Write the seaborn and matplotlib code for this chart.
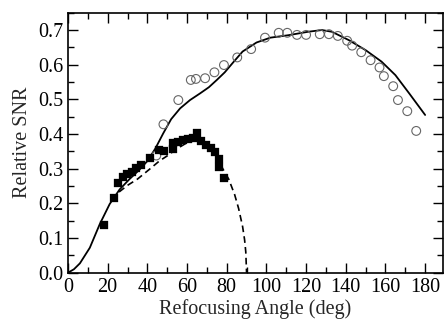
import numpy as np
import pandas as pd
import matplotlib
matplotlib.use("Agg")
import matplotlib.pyplot as plt
import seaborn as sns
from matplotlib.ticker import MultipleLocator

# Filled squares (measured)
sq_x = [18.3, 23.0, 25.4, 27.6, 29.6, 32.1, 34.5, 36.7, 41.2, 46.0, 48.5, 53.1, 53.1,
        55.6, 58.2, 60.7, 62.9, 64.9, 66.9, 69.6, 72.1, 74.1, 76.3, 76.3, 78.8]
sq_y = [0.137, 0.215, 0.260, 0.277, 0.285, 0.291, 0.303, 0.310, 0.330, 0.353, 0.350, 0.374, 0.358,
        0.378, 0.383, 0.386, 0.388, 0.402, 0.381, 0.368, 0.359, 0.347, 0.327, 0.306, 0.272]

# Open circles (measured)
ci_x = [44.5, 48.1, 55.6, 61.9, 64.5, 69.1, 73.8, 78.6, 85.3, 92.3, 99.3, 106.2, 110.5,
        115.4, 120.0, 126.9, 131.5, 136.0, 140.7, 143.2, 147.8, 152.5, 157.0, 159.2,
        163.9, 166.3, 171.0, 175.5]
ci_y = [0.338, 0.428, 0.498, 0.556, 0.559, 0.561, 0.578, 0.599, 0.621, 0.645, 0.678, 0.692, 0.692,
        0.686, 0.686, 0.688, 0.688, 0.683, 0.669, 0.655, 0.636, 0.613, 0.592, 0.567,
        0.538, 0.498, 0.466, 0.409]

# Solid curve
solid_x = [0, 3, 6, 11, 16, 21, 26, 31, 36, 40, 44, 48, 52, 56.5, 61.5, 66.5, 71, 75, 79,
           83, 88, 95, 102, 111, 121, 128, 133, 141.5, 150, 158, 165, 172, 180]
solid_y = [0.0, 0.01, 0.027, 0.072, 0.14, 0.198, 0.24, 0.27, 0.297, 0.322, 0.358, 0.402, 0.443,
           0.474, 0.498, 0.517, 0.535, 0.556, 0.578, 0.605, 0.638, 0.664, 0.678, 0.685,
           0.695, 0.700, 0.695, 0.671, 0.642, 0.609, 0.570, 0.517, 0.455]

# Dashed curve
dash_x = [22, 26, 30, 35, 41, 46, 50, 55, 60, 65, 70, 75, 78, 81, 84, 86, 88, 89, 89.6, 90]
dash_y = [0.21, 0.234, 0.252, 0.27, 0.298, 0.322, 0.337, 0.358, 0.375, 0.383, 0.37, 0.335,
          0.30, 0.27, 0.225, 0.185, 0.133, 0.095, 0.06, 0.0]

sns.set_style("ticks")
plt.rcParams["font.family"] = ["Liberation Serif", "DejaVu Serif"]

fig = plt.figure(figsize=(4.44, 3.29), dpi=100)
ax = fig.add_axes([68 / 444, 1 - 272.7 / 329, (443 - 68) / 444, (272.7 - 12.7) / 329])

sns.lineplot(x=solid_x, y=solid_y, ax=ax, color="black", linewidth=1.3, sort=False)
sns.lineplot(x=dash_x, y=dash_y, ax=ax, color="black", linewidth=1.2, sort=False,
             linestyle=(0, (4, 2.5)))
sns.scatterplot(x=ci_x, y=ci_y, ax=ax, marker="o", s=40, facecolor="none",
                edgecolor="#666666", linewidth=0.8, zorder=3)
sns.scatterplot(x=sq_x, y=sq_y, ax=ax, marker="s", s=26, color="black",
                edgecolor="black", linewidth=0.2, zorder=4)

ax.set_xlim(0, 189)
ax.set_ylim(0, 0.75)
ax.xaxis.set_major_locator(MultipleLocator(20))
ax.xaxis.set_minor_locator(MultipleLocator(10))
ax.yaxis.set_major_locator(MultipleLocator(0.1))
ax.yaxis.set_minor_locator(MultipleLocator(0.05))
ax.yaxis.set_major_formatter(matplotlib.ticker.FormatStrFormatter("%.1f"))
ax.tick_params(which="both", direction="in", top=True, right=True, labelsize=14.5,
               width=1.0, colors="black")
ax.tick_params(which="major", length=7)
ax.tick_params(which="minor", length=4)
for sp in ax.spines.values():
    sp.set_visible(True)
    sp.set_linewidth(1.2)
    sp.set_color("black")

ax.set_xlabel("Refocusing Angle (deg)", fontsize=14.5, labelpad=2)
ax.set_ylabel("Relative SNR", fontsize=14.5, labelpad=4)

fig.savefig("out.png", dpi=100)
